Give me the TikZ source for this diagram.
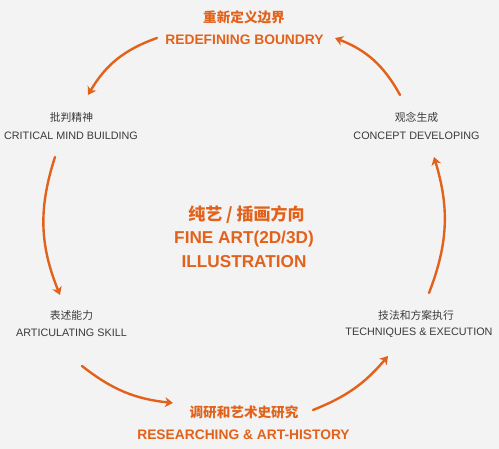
\documentclass[tikz,border=0pt]{standalone}
\usepackage{fontspec}
\setmainfont{Liberation Sans}
\newfontfamily\cjk{Noto Sans CJK SC}
\usetikzlibrary{arrows.meta}
\definecolor{bg}{HTML}{F3F3F3}
\definecolor{org}{HTML}{E2621B}
\definecolor{txt}{HTML}{3A3A3A}
\tikzset{
  glab/.style={anchor=center, inner sep=0pt, text=txt, font=\fontsize{10.8}{12}\selectfont},
  gcjk/.style={anchor=center, inner sep=0pt, text=txt, font=\cjk\fontsize{10.8}{12}\selectfont},
  olab/.style={anchor=center, inner sep=0pt, text=org, font=\bfseries\fontsize{13.8}{15}\selectfont},
  ocjk/.style={anchor=center, inner sep=0pt, text=org, font=\cjk\bfseries\fontsize{13.6}{15}\selectfont},
  clab/.style={anchor=center, inner sep=0pt, text=org, font=\bfseries\fontsize{17.2}{19}\selectfont},
  ccjk/.style={anchor=center, inner sep=0pt, text=org, font=\cjk\bfseries\fontsize{17}{19}\selectfont},
  flow/.style={draw=org, line width=2.4pt, line cap=round, -{Stealth[length=8pt,width=10pt,inset=2.5pt]}}
}
\begin{document}
\begin{tikzpicture}[x=1pt,y=1pt]
\fill[bg] (0,0) rectangle (499,-449);
\useasboundingbox (0,0) rectangle (499,-449);
% top
\node[ocjk] (topc) at (244,-17) {重新定义边界};
\node[olab] (tope) at (244.5,-40) {REDEFINING BOUNDRY};
% upper left
\node[gcjk] (ulc) at (71.5,-117) {批判精神};
\node[glab] (ule) at (71,-135.5) {CRITICAL MIND BUILDING};
% upper right
\node[gcjk] (urc) at (416.5,-117) {观念生成};
\node[glab] (ure) at (416.5,-135.5) {CONCEPT DEVELOPING};
% lower left
\node[gcjk] (llc) at (71.5,-315) {表述能力};
\node[glab] (lle) at (71.5,-333) {ARTICULATING SKILL};
% lower right
\node[gcjk] (lrc) at (416,-315) {技法和方案执行};
\node[glab] (lre) at (419,-333) {TECHNIQUES \& EXECUTION};
% bottom
\node[ocjk] (botc) at (244,-412) {调研和艺术史研究};
\node[olab] (bote) at (243.5,-435) {RESEARCHING \& ART-HISTORY};
% center
\node[ccjk] (cc) at (246.5,-215) {纯艺 / 插画方向};
\node[clab] (ce1) at (244,-239) {FINE ART(2D/3D)};
\node[clab] (ce2) at (244,-262) {ILLUSTRATION};
% arrow end points
\coordinate (a1s) at (157,-38);  \coordinate (a1e) at (88,-95);
\coordinate (a2s) at (55,-157);  \coordinate (a2e) at (60,-295);
\coordinate (a3s) at (82,-366);  \coordinate (a3e) at (173,-403);
\coordinate (a4s) at (313,-410); \coordinate (a4e) at (388,-356);
\coordinate (a5s) at (429,-293); \coordinate (a5e) at (434,-157);
\coordinate (a6s) at (400,-95);  \coordinate (a6e) at (335,-38);
\draw[flow] (a1s) to[bend right=20] (a1e);
\draw[flow] (a2s) to[bend right=20] (a2e);
\draw[flow] (a3s) to[bend right=16] (a3e);
\draw[flow] (a4s) to[bend right=14] (a4e);
\draw[flow] (a5s) to[bend right=19] (a5e);
\draw[flow] (a6s) to[bend right=20] (a6e);
\end{tikzpicture}
\end{document}
